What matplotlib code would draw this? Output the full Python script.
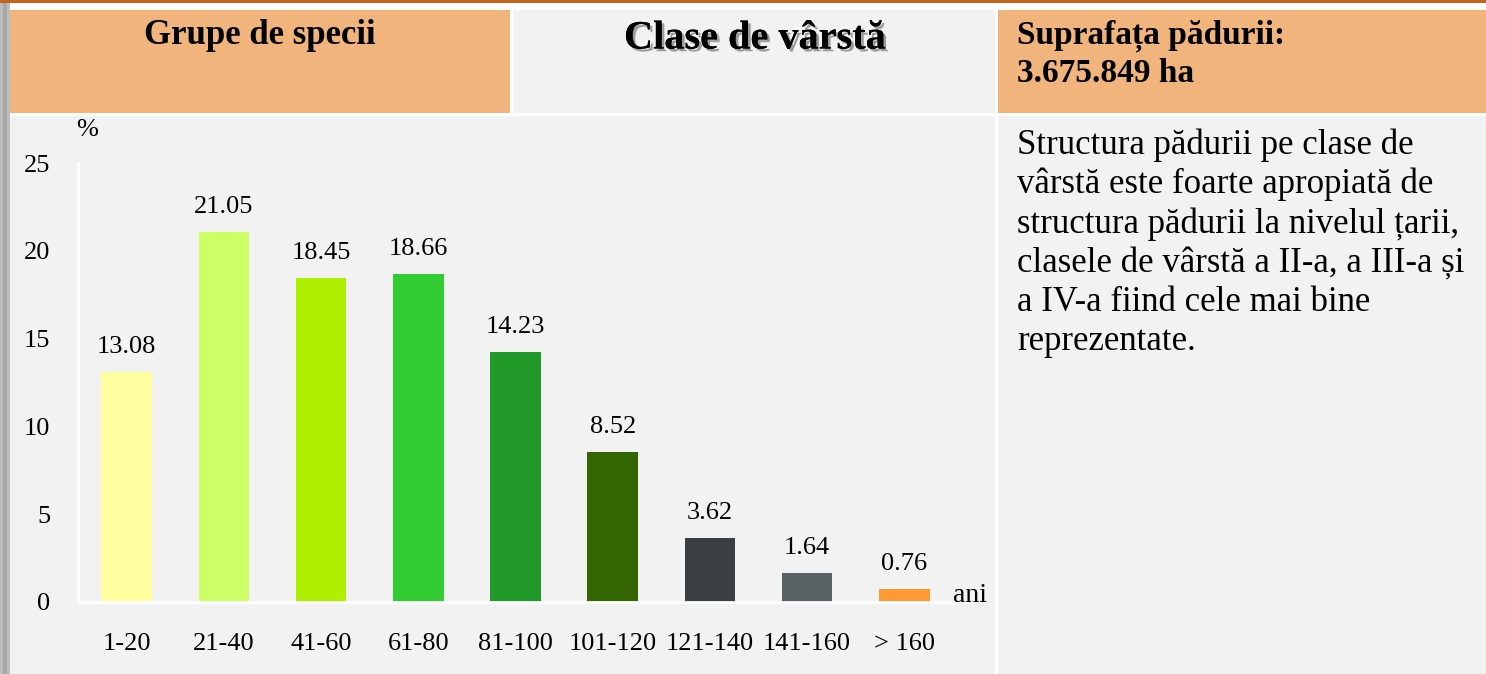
import matplotlib.pyplot as plt
import matplotlib.patheffects as pe
from matplotlib.patches import Rectangle

categories = ['1-20', '21-40', '41-60', '61-80', '81-100', '101-120', '121-140', '141-160', '> 160']
values = [13.08, 21.05, 18.45, 18.66, 14.23, 8.52, 3.62, 1.64, 0.76]
bar_colors = ['#ffffa0', '#ccff66', '#aeef00', '#33cc33', '#229a2a', '#336600', '#3a3f42', '#596063', '#ff9933']
yticks = [0, 5, 10, 15, 20, 25]

W, H = 1486, 674
plt.rcParams['font.family'] = ['Liberation Serif', 'DejaVu Serif']
fig = plt.figure(figsize=(W / 100, H / 100), dpi=100)
fig.patch.set_facecolor('white')


def box(x0, y0, x1, y1, color):
    # pixel coords (top-left origin) -> figure fraction
    fig.patches.append(Rectangle((x0 / W, 1 - y1 / H), (x1 - x0) / W, (y1 - y0) / H,
                                 transform=fig.transFigure, facecolor=color,
                                 edgecolor='none', zorder=-5))


def txt(x, y, s, **kw):
    fig.text(x / W, 1 - y / H, s, **kw)


# frame
box(0, 0, W, 3, '#c0651a')
box(0, 3, 10, H, '#bdbdbd')
box(3, 3, 7, H, '#a6a6a6')
box(10, 10, 510, 113, '#f0b47c')
box(513, 10, 995, 113, '#f2f2f2')
box(998, 10, W, 113, '#f0b47c')
box(10, 116, 995, H, '#f2f2f2')
box(998, 116, W, H, '#f2f2f2')

txt(260, 36, 'Grupe de specii', ha='center', va='center', fontsize=25, fontweight='bold')
txt(755, 39, 'Clase de vârstă', ha='center', va='center', fontsize=29, fontweight='bold',
    path_effects=[pe.withSimplePatchShadow(offset=(2, -2), alpha=0.35), pe.Normal()])
txt(1017, 36, 'Suprafața pădurii:', ha='left', va='center', fontsize=24, fontweight='bold')
txt(1017, 74, '3.675.849 ha', ha='left', va='center', fontsize=24, fontweight='bold')

body = ('Structura pădurii pe clase de\n'
        'vârstă este foarte apropiată de\n'
        'structura pădurii la nivelul țarii,\n'
        'clasele de vârstă a II-a, a III-a și\n'
        'a IV-a fiind cele mai bine\n'
        'reprezentate.')
txt(1017, 128, body, ha='left', va='top', fontsize=25, linespacing=1.24)

# chart
ax = fig.add_axes([78 / W, (H - 602) / H, (953 - 78) / W, (602 - 163) / H], zorder=3)
ax.set_facecolor('none')
x = range(len(categories))
bars = ax.bar(x, values, width=0.52, color=bar_colors, zorder=2)
for xi, v in zip(x, values):
    ax.text(xi, v + 0.8, f'{v:.2f}', ha='center', va='bottom', fontsize=19)
ax.set_xlim(-0.5, 8.5)
ax.set_ylim(0, 25)
ax.set_yticks(yticks)
ax.set_xticks(list(x))
ax.set_xticklabels(categories)
ax.tick_params(axis='both', length=0, labelsize=19)
ax.tick_params(axis='x', pad=22)
ax.tick_params(axis='y', pad=20)
for s in ['top', 'right']:
    ax.spines[s].set_visible(False)
for s in ['left', 'bottom']:
    ax.spines[s].set_color('white')
    ax.spines[s].set_linewidth(2)
txt(87, 130, '%', ha='center', va='center', fontsize=19)
txt(953, 596, 'ani', ha='left', va='center', fontsize=20)

fig.savefig('out.png', dpi=100)
